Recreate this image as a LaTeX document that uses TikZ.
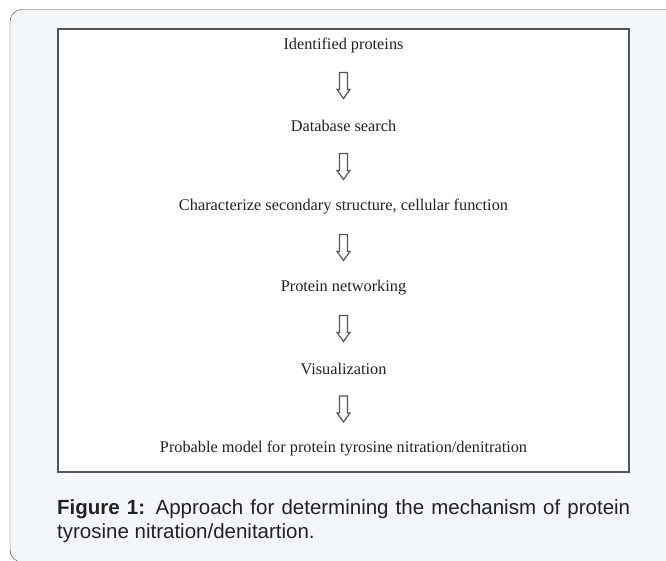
\documentclass[tikz,border=0pt]{standalone}
\usepackage{fontspec}
\setmainfont{Liberation Serif}
\setsansfont{Liberation Sans}
\usetikzlibrary{calc}
\definecolor{panelFill}{HTML}{F3F7FA}
\definecolor{panelLine}{HTML}{3A3A3A}
\definecolor{boxLine}{HTML}{555555}
\definecolor{mText}{HTML}{222222}

\begin{document}
\begin{tikzpicture}[x=1pt, y=-1pt,
  stepnode/.style={font=\fontsize{16.3}{19}\selectfont, text=mText, inner sep=0pt},
  caption/.style={font=\sffamily\fontsize{20.5}{24}\selectfont, text=mText, inner sep=0pt,
                  text width=573pt, align=justify, anchor=north west},
  hollowdown/.pic={\draw[boxLine, line width=1.2pt, fill=white]
    (-4,-13) -- (-4,4) -- (-6.5,4) -- (0,13) -- (6.5,4) -- (4,4) -- (4,-13) -- cycle;},
]
  \useasboundingbox (0,0) rectangle (666,561);
  \clip (0,0) rectangle (666,561);
  \fill[white] (0,0) rectangle (666,561);
  % panel and frame
  \draw[panelLine, fill=panelFill, rounded corners=12pt] (10,9.5) rectangle (690,562);
  \draw[boxLine, line width=1.4pt, fill=white] (58,29) rectangle (629,472);

  \node[stepnode] (id) at (343.5,45)  {Identified proteins};
  \node[stepnode] (db) at (343.5,126) {Database search};
  \node[stepnode] (cs) at (343.5,207) {Characterize secondary structure, cellular function};
  \node[stepnode] (pn) at (343.5,288) {Protein networking};
  \node[stepnode] (vz) at (343.5,369) {Visualization};
  \node[stepnode] (pm) at (343.5,449) {Probable model for protein tyrosine nitration/denitration};

  \foreach \a/\b in {id/db, db/cs, cs/pn, pn/vz, vz/pm}
    \path ($(\a)!0.5!(\b)$) pic {hollowdown};

  \node[caption] (cap) at (57,499.5)
    {\textbf{Figure 1:} Approach for determining the mechanism of protein\linebreak
     tyrosine nitration/denitartion.};
\end{tikzpicture}
\end{document}
